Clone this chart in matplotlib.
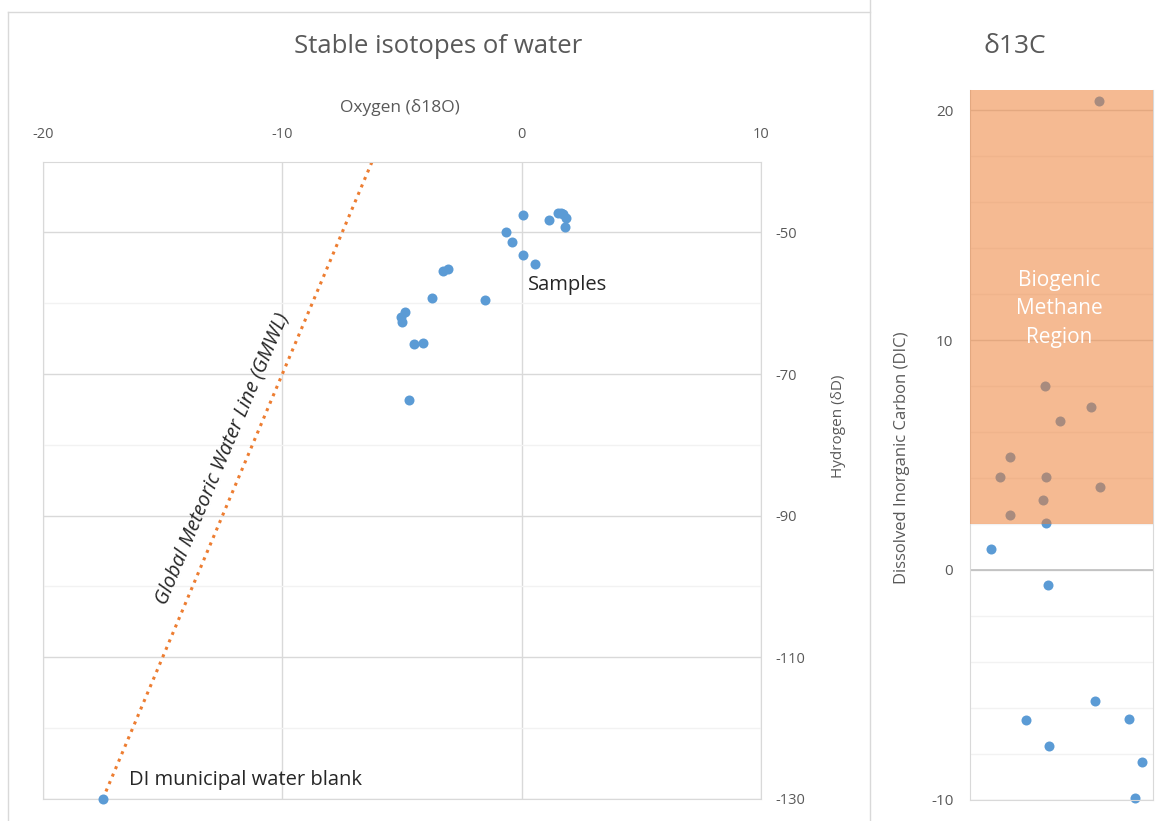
import matplotlib.pyplot as plt
from matplotlib.lines import Line2D

plt.rcParams['font.family'] = ['Open Sans', 'DejaVu Sans']
plt.rcParams['axes.unicode_minus'] = False

# stable isotopes of water
oxygen_d18O = [0.05, 1.14, 1.51, 1.65, 1.72, 1.86, 1.82, -0.64, -0.41, 0.05, 0.55,
               -3.28, -3.08, -3.74, -1.54, -4.87, -5.04, -4.99, -4.48, -4.13, -4.71]
hydrogen_dD = [-47.5, -48.2, -47.3, -47.2, -47.4, -48.0, -49.2, -50.0, -51.4, -53.2, -54.4,
               -55.5, -55.2, -59.2, -59.6, -61.3, -62.0, -62.6, -65.8, -65.6, -73.7]
blank_d18O = [-17.5]
blank_dD = [-130]
gmwl_x = [-17.5, -6.25]
gmwl_y = [-130, -40]

# d13C of dissolved inorganic carbon
dic_pos = [7.03, 4.08, 6.6, 4.93, 2.17, 1.64, 4.15, 7.12, 4.0, 2.17, 4.15, 1.13,
           4.25, 6.85, 3.04, 8.67, 4.33, 9.38, 9.02]
dic_d13C = [20.4, 8.0, 7.1, 6.5, 4.9, 4.03, 4.03, 3.62, 3.04, 2.38, 2.03, 0.93,
            -0.65, -5.71, -6.52, -6.46, -7.64, -8.33, -9.9]
methane_floor = 2

blue = '#5B9BD5'
orange = '#ED7D31'
txt = '#595959'
grid_major = '#D9D9D9'
grid_minor = '#F2F2F2'

fig = plt.figure(figsize=(11.61, 8.21), dpi=100)

# --- left: stable isotopes ---
ax = fig.add_axes([0.0370, 0.0269, 0.6185, 0.7762])
ax.plot(gmwl_x, gmwl_y, linestyle=':', color=orange, linewidth=2.2, zorder=2)
ax.scatter(oxygen_d18O, hydrogen_dD, s=52, color=blue, zorder=3, linewidths=0)
ax.scatter(blank_d18O, blank_dD, s=52, color=blue, zorder=3, linewidths=0, clip_on=False)
ax.set_xlim(-20, 10)
ax.set_ylim(-130, -40)
ax.set_xticks([-20, -10, 0, 10])
ax.set_yticks([-130, -110, -90, -70, -50])
ax.set_yticks([-120, -100, -80, -60], minor=True)
ax.xaxis.tick_top()
ax.yaxis.tick_right()
ax.tick_params(axis='both', which='both', length=0, colors=txt, labelsize=10.5)
ax.tick_params(axis='x', pad=14)
ax.tick_params(axis='y', pad=10)
ax.grid(True, which='major', color=grid_major, linewidth=1)
ax.grid(True, which='minor', axis='y', color=grid_minor, linewidth=1)
ax.set_axisbelow(True)
for sp in ax.spines.values():
    sp.set_color(grid_major)
ax.set_xlabel('Oxygen (δ18O)', color=txt, fontsize=12.5)
ax.xaxis.set_label_position('top')
ax.xaxis.set_label_coords(0.497, 1.078)
ax.set_ylabel('Hydrogen (δD)', color=txt, fontsize=11, rotation=90)
ax.yaxis.set_label_position('right')
ax.yaxis.set_label_coords(1.098, 0.584)

ax.text(0.27, -57.4, 'Samples', fontsize=14.5, color='#262626', va='center', ha='left')
ax.text(-16.4, -127.3, 'DI municipal water blank', fontsize=14.5, color='#262626',
        va='center', ha='left')
ax.text(-12.5, -82.0, 'Global Meteoric Water Line (GMWL)', fontsize=14.5, style='italic',
        color='#262626', ha='center', va='center', rotation=82.87,
        rotation_mode='anchor', transform_rotates_text=True)

fig.text(0.377, 0.943, 'Stable isotopes of water', fontsize=18.5, color=txt,
         ha='center', va='center')

# --- right: d13C ---
ax2 = fig.add_axes([0.8355, 0.0256, 0.1576, 0.8642])
ax2.scatter(dic_pos, dic_d13C, s=52, color=blue, zorder=2, linewidths=0, clip_on=False)
ax2.axhspan(methane_floor, 20.85, color=orange, alpha=0.53, linewidth=0, zorder=3)
ax2.axhline(0, color='#BFBFBF', linewidth=1.2, zorder=1)
ax2.set_xlim(0, 10)
ax2.set_ylim(-10, 20.85)
ax2.set_xticks([])
ax2.set_yticks([-10, 0, 10, 20])
ax2.set_yticks(list(range(-8, 21, 2)), minor=True)
ax2.tick_params(axis='y', which='both', length=0, colors=txt, labelsize=11, pad=12)
ax2.grid(True, which='major', axis='y', color=grid_major, linewidth=1)
ax2.grid(True, which='minor', axis='y', color=grid_minor, linewidth=1)
ax2.set_axisbelow(True)
for sp in ax2.spines.values():
    sp.set_color(grid_major)
ax2.spines['top'].set_visible(False)
ax2.set_ylabel('Dissolved Inorganic Carbon (DIC)', color=txt, fontsize=12)
ax2.yaxis.set_label_coords(-0.328, 0.483)
ax2.text(4.9, 11.35, 'Biogenic\nMethane\nRegion', color='white', fontsize=15,
         ha='center', va='center', linespacing=1.45, zorder=4)

fig.text(0.874, 0.943, 'δ13C', fontsize=19, color=txt, ha='center', va='center')

# chart frames
frame = dict(color=grid_major, linewidth=1, transform=fig.transFigure)
fig.add_artist(Line2D([0.007, 0.749], [0.985, 0.985], **frame))
fig.add_artist(Line2D([0.007, 0.007], [0.0, 0.985], **frame))
fig.add_artist(Line2D([0.749, 0.749], [0.0, 1.0], **frame))

fig.savefig('out.png', dpi=100)
